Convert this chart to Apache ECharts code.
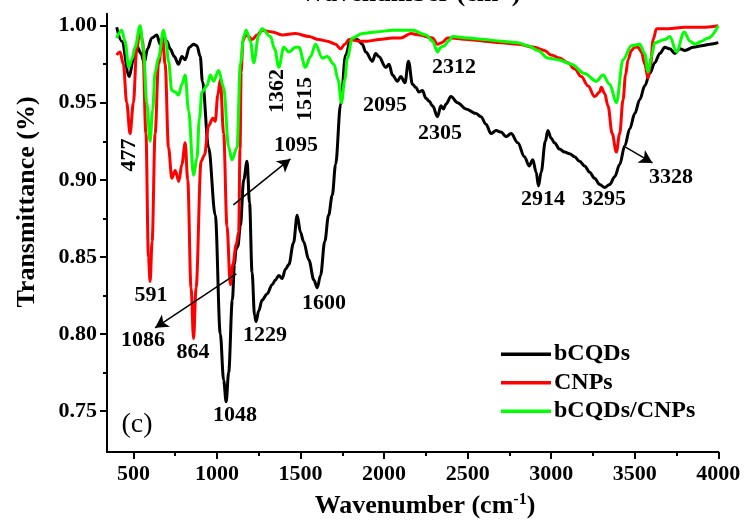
<!DOCTYPE html>
<html><head><meta charset="utf-8">
<script src="https://cdn.jsdelivr.net/npm/echarts@6/dist/echarts.min.js"></script>
<style>html,body{margin:0;padding:0;background:#fff}#c{width:747px;height:524px}</style>
</head><body><div id="c"></div>
<script>
// ---------- data ----------
const bcqdsX = [400,430,475,500,525,545,565,585,610,640,660,680,700,720,745,770,790,810,835,860,880,900,913,950,990,1020,1040,1055,1070,1092,1105,1114,1125,1140,1160,1180,1195,1210,1225,1234,1250,1270,1300,1330,1350,1370,1390,1410,1430,1458,1480,1500,1518,1550,1580,1600,1620,1645,1668,1690,1710,1740,1770,1800,1840,1870,1890,1930,1950,1968,2010,2030,2050,2080,2100,2125,2146,2170,2190,2208,2230,2250,2270,2290,2320,2340,2355,2370,2400,2440,2490,2550,2580,2610,2640,2670,2700,2730,2760,2800,2840,2868,2890,2910,2924,2940,2965,2980,3000,3020,3050,3080,3110,3140,3170,3200,3230,3260,3290,3320,3350,3380,3410,3440,3470,3500,3530,3560,3590,3620,3650,3680,3710,3740,3770,3800,3850,3900,3950,4000];
const bcqdsY = [0.999,0.990,0.967,0.978,0.986,0.982,0.976,0.985,0.992,0.994,0.988,0.993,0.990,0.985,0.980,0.975,0.980,0.978,0.986,0.988,0.987,0.980,0.964,0.921,0.877,0.800,0.770,0.756,0.775,0.822,0.845,0.855,0.857,0.870,0.900,0.912,0.885,0.840,0.812,0.808,0.815,0.822,0.826,0.832,0.835,0.838,0.836,0.842,0.845,0.859,0.877,0.866,0.860,0.848,0.835,0.830,0.838,0.860,0.877,0.890,0.910,0.949,0.981,0.991,0.991,0.988,0.983,0.977,0.982,0.980,0.973,0.975,0.968,0.964,0.967,0.963,0.977,0.962,0.960,0.957,0.958,0.953,0.951,0.948,0.941,0.948,0.946,0.949,0.954,0.950,0.946,0.943,0.941,0.936,0.930,0.932,0.931,0.928,0.930,0.924,0.915,0.909,0.913,0.905,0.896,0.905,0.925,0.932,0.927,0.924,0.920,0.918,0.917,0.915,0.912,0.909,0.905,0.901,0.897,0.895,0.897,0.902,0.910,0.922,0.933,0.943,0.952,0.961,0.969,0.976,0.982,0.986,0.985,0.982,0.985,0.984,0.986,0.987,0.988,0.989];

const cnpsX = [400,420,440,460,480,500,520,540,555,575,590,600,612,630,650,675,690,710,730,750,772,790,810,825,845,860,875,905,925,950,975,990,1005,1020,1040,1060,1080,1095,1115,1130,1138,1145,1155,1170,1190,1210,1240,1270,1330,1390,1470,1550,1610,1660,1710,1740,1765,1790,1850,1900,1970,2050,2100,2160,2210,2290,2320,2345,2380,2400,2500,2600,2700,2800,2900,2960,3000,3050,3100,3140,3180,3220,3260,3290,3300,3320,3340,3365,3390,3410,3430,3445,3460,3480,3500,3520,3540,3560,3580,3595,3610,3630,3700,3800,3900,4000];
const cnpsY = [0.981,0.983,0.975,0.950,0.930,0.950,0.985,0.998,0.990,0.930,0.850,0.834,0.860,0.930,0.975,0.991,0.975,0.921,0.901,0.906,0.899,0.910,0.924,0.900,0.830,0.797,0.830,0.912,0.916,0.935,0.940,0.938,0.955,0.965,0.930,0.870,0.832,0.845,0.858,0.866,0.920,0.970,0.990,0.994,0.993,0.991,0.994,0.997,0.996,0.994,0.995,0.993,0.991,0.990,0.988,0.985,0.988,0.991,0.990,0.990,0.991,0.992,0.992,0.995,0.994,0.992,0.988,0.989,0.992,0.992,0.991,0.990,0.989,0.988,0.986,0.984,0.981,0.979,0.976,0.972,0.967,0.961,0.954,0.957,0.960,0.956,0.948,0.930,0.918,0.930,0.952,0.968,0.978,0.984,0.986,0.986,0.983,0.975,0.966,0.975,0.991,0.998,0.998,0.999,0.999,1.000];

const mixX = [400,430,450,472,490,510,540,560,580,600,615,630,650,680,695,710,730,750,770,790,810,830,860,880,895,910,940,960,980,1010,1040,1070,1090,1120,1140,1160,1175,1200,1220,1250,1270,1320,1345,1370,1400,1430,1470,1490,1530,1560,1590,1630,1660,1700,1725,1745,1765,1780,1810,1870,1950,2050,2170,2250,2290,2320,2340,2360,2385,2410,2500,2600,2700,2800,2860,2920,2980,3040,3120,3200,3270,3310,3350,3390,3430,3480,3530,3560,3580,3600,3620,3680,3710,3750,3796,3830,3860,3900,3940,4000];
const mixY = [0.992,0.997,0.990,0.973,0.978,0.986,1.000,0.985,0.950,0.925,0.945,0.970,0.979,0.997,0.990,0.977,0.958,0.957,0.955,0.962,0.968,0.945,0.903,0.914,0.940,0.957,0.961,0.968,0.964,0.971,0.960,0.921,0.913,0.921,0.975,0.993,0.997,0.990,0.976,0.994,0.998,0.993,0.985,0.973,0.986,0.983,0.986,0.986,0.973,0.980,0.988,0.979,0.980,0.975,0.965,0.950,0.965,0.979,0.992,0.995,0.996,0.997,0.997,0.994,0.990,0.983,0.986,0.987,0.990,0.993,0.992,0.991,0.990,0.989,0.987,0.984,0.979,0.978,0.975,0.969,0.964,0.968,0.962,0.950,0.978,0.987,0.988,0.982,0.970,0.980,0.989,0.991,0.993,0.983,0.996,0.990,0.988,0.990,0.992,1.000];

const seriesNames = ['bCQDs','CNPs','bCQDs/CNPs'];
const xTicks = [500,1000,1500,2000,2500,3000,3500,4000];
const xMinorTicks = [750,1250,1750,2250,2750,3250,3750];
const yTicks = [0.75,0.80,0.85,0.90,0.95,1.00];
const yMinorTicks = [0.775,0.825,0.875,0.925,0.975];

// ---------- chart ----------
const FONT = 'Liberation Serif';
const zip = (xs, ys) => xs.map((x, i) => [x, ys[i]]);
const XMIN = 342, XMAX = 4000, YMIN = 0.7234, YMAX = 1.0078;

const chart = echarts.init(document.getElementById('c'), null, {renderer: 'canvas'});
const lineCommon = {type: 'line', showSymbol: false, symbol: 'none', smooth: 0.35, smoothMonotone: 'x', animation: false, z: 2};

const txt = (text, x, y, rot, size, weight) => ({
  type: 'text', x: x, y: y, rotation: rot || 0, z: 50,
  style: {text: text, fill: '#000', fontFamily: FONT, fontSize: size || 22, fontWeight: weight || 'bold', align: 'center', verticalAlign: 'middle'}
});

chart.setOption({
  backgroundColor: '#fff',
  animation: false,
  grid: {left: 107, right: 28.7, top: 13.7, bottom: 72, containLabel: false},
  xAxis: [{
    type: 'value', min: XMIN, max: XMAX, position: 'bottom',
    axisLine: {show: true, onZero: false, lineStyle: {color: '#000', width: 2}},
    axisTick: {show: true, inside: false, length: 7, customValues: xTicks, lineStyle: {color: '#000', width: 2}},
    axisLabel: {customValues: xTicks, color: '#000', fontFamily: FONT, fontWeight: 'bold', fontSize: 22, margin: 11,
      formatter: v => String(Math.round(v))},
    splitLine: {show: false}
  }, {
    type: 'value', min: XMIN, max: XMAX, position: 'bottom',
    axisLine: {show: false},
    axisTick: {show: true, inside: false, length: 4, customValues: xMinorTicks, lineStyle: {color: '#000', width: 2}},
    axisLabel: {show: false}, splitLine: {show: false}
  }],
  yAxis: [{
    type: 'value', min: YMIN, max: YMAX, position: 'left',
    axisLine: {show: true, onZero: false, lineStyle: {color: '#000', width: 2}},
    axisTick: {show: true, inside: false, length: 7, customValues: yTicks, lineStyle: {color: '#000', width: 2}},
    axisLabel: {customValues: yTicks, color: '#000', fontFamily: FONT, fontWeight: 'bold', fontSize: 22, margin: 10,
      formatter: v => v.toFixed(2)},
    splitLine: {show: false}
  }, {
    type: 'value', min: YMIN, max: YMAX, position: 'left',
    axisLine: {show: false},
    axisTick: {show: true, inside: false, length: 4, customValues: yMinorTicks, lineStyle: {color: '#000', width: 2}},
    axisLabel: {show: false}, splitLine: {show: false}
  }],
  legend: {
    orient: 'vertical', left: 496, top: 337, icon: 'rect', itemWidth: 50, itemHeight: 3.5, itemGap: 4,
    textStyle: {color: '#000', fontFamily: FONT, fontWeight: 'bold', fontSize: 24, lineHeight: 24.5, padding: [0,0,0,-2]},
    data: seriesNames
  },
  series: [
    Object.assign({}, lineCommon, {name: seriesNames[0], data: zip(bcqdsX, bcqdsY), color: '#000', lineStyle: {color: '#000', width: 3}}),
    Object.assign({}, lineCommon, {name: seriesNames[1], data: zip(cnpsX, cnpsY), color: '#ff0000', lineStyle: {color: '#ff0000', width: 3}}),
    Object.assign({}, lineCommon, {name: seriesNames[2], data: zip(mixX, mixY), color: '#00ff00', lineStyle: {color: '#00ff00', width: 3},
      markLine: {
        silent: true, symbol: ['none', 'arrow'], symbolSize: [11, 13],
        label: {show: false},
        lineStyle: {color: '#000', width: 1.5, type: 'solid'},
        data: [
          [{coord: [1098, 0.8838]}, {coord: [1440, 0.9136]}],
          [{coord: [1116, 0.839]}, {coord: [630, 0.804]}],
          [{coord: [3432, 0.922]}, {coord: [3606, 0.911]}]
        ]
      }})
  ],
  graphic: [
    {type: 'text', x: 410, y: -6, z: 50, style: {text: '{a|Wavenumber (cm}{s|-1}{a|)}', align: 'center', verticalAlign: 'middle',
      rich: {a: {fontFamily: FONT, fontWeight: 'bold', fontSize: 26, fill: '#000'}, s: {fontFamily: FONT, fontWeight: 'bold', fontSize: 16, fill: '#000', padding: [0,0,12,0]}}}},
    {type: 'text', x: 425, y: 506, z: 50, style: {text: '{a|Wavenumber (cm}{s|-1}{a|)}', align: 'center', verticalAlign: 'middle',
      rich: {a: {fontFamily: FONT, fontWeight: 'bold', fontSize: 26, fill: '#000'}, s: {fontFamily: FONT, fontWeight: 'bold', fontSize: 16, fill: '#000', padding: [0,0,12,0]}}}},
    txt('Transmittance (%)', 27, 202, Math.PI / 2, 26),
    txt('477', 129, 155, Math.PI / 2),
    txt('591', 151, 295),
    txt('1086', 143, 340),
    txt('864', 193, 352),
    txt('1048', 235, 415),
    txt('1229', 265, 335),
    txt('1600', 324, 303),
    txt('1095', 296, 145),
    txt('1362', 277, 91, Math.PI / 2),
    txt('1515', 305, 99, Math.PI / 2),
    txt('2095', 385, 105),
    txt('2305', 440, 133),
    txt('2312', 454, 67),
    txt('2914', 543, 199),
    txt('3295', 604, 199),
    txt('3328', 671, 177),
    txt('(c)', 137, 425, 0, 28, 'normal')
  ]
});
</script></body></html>
